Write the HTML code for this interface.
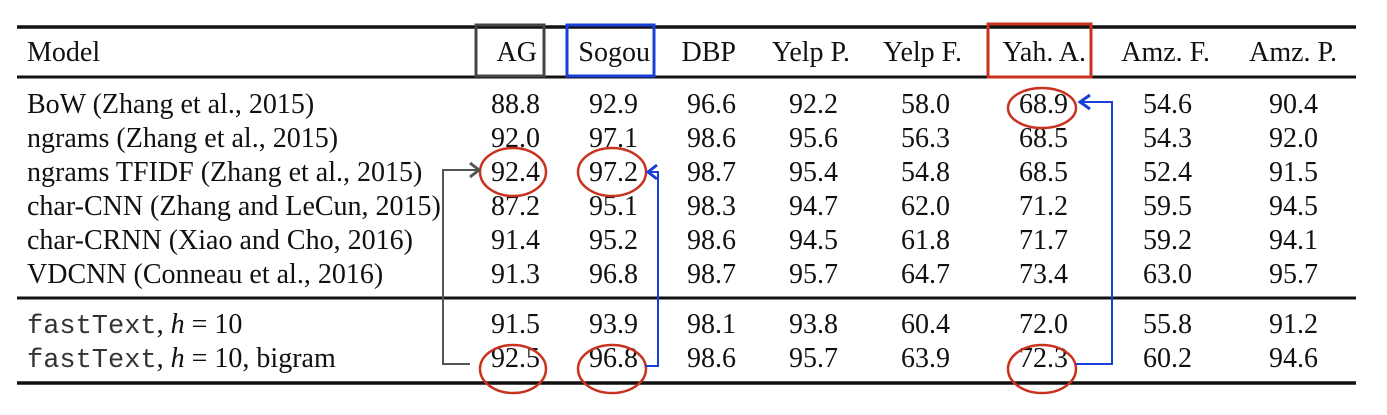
<!DOCTYPE html>
<html><head><meta charset="utf-8"><style>
html,body{margin:0;padding:0;background:#fff;}
svg{display:block;}
text{font-family:"Liberation Serif",serif;font-size:28px;fill:#111;}
.m{font-family:"Liberation Mono",monospace;font-size:27px;fill:#333;}
</style></head><body>
<svg id="tbl" width="1387" height="415">
<rect x="0" y="0" width="1387" height="415" fill="#fff"/>
<line x1="17" y1="27" x2="1356" y2="27" stroke="#111" stroke-width="3.5"/>
<line x1="17" y1="77" x2="1356" y2="77" stroke="#111" stroke-width="3"/>
<line x1="17" y1="298" x2="1356" y2="298" stroke="#111" stroke-width="3"/>
<line x1="17" y1="383" x2="1356" y2="383" stroke="#111" stroke-width="3.5"/>
<text x="27" y="61">Model</text>
<g id="cells"></g>
<rect x="476" y="25" width="68" height="51" fill="none" stroke="#444" stroke-width="3"/>
<rect x="567" y="25" width="87" height="51" fill="none" stroke="#1a3fd8" stroke-width="3"/>
<rect x="988" y="24" width="103" height="53" fill="none" stroke="#c8321e" stroke-width="3"/>
<g fill="none" stroke-width="2.5" stroke="#c8321e">
<ellipse cx="513" cy="172" rx="33" ry="24"/>
<ellipse cx="612" cy="172" rx="34" ry="24"/>
<ellipse cx="1042" cy="108" rx="34" ry="20"/>
<ellipse cx="513" cy="369" rx="33" ry="24"/>
<ellipse cx="612" cy="369" rx="34" ry="24"/>
<ellipse cx="1042" cy="369" rx="34" ry="24"/>
</g>
<g fill="none" stroke-width="2">
<polyline points="470,364 443,364 443,170 478,170" stroke="#555"/>
<polyline points="470,163 479,170 470,177" stroke="#555" stroke-width="3"/>
<polyline points="645,366 658,366 658,172 650,172" stroke="#1a3fd8"/>
<polyline points="657,165 648,172 657,179" stroke="#1a3fd8" stroke-width="3"/>
<polyline points="1076,364 1112,364 1112,102 1080,102" stroke="#1a3fd8"/>
<polyline points="1090,95 1080,102 1090,109" stroke="#1a3fd8" stroke-width="3"/>
</g>
</svg>
<script>
const headers = ["AG","Sogou","DBP","Yelp P.","Yelp F.","Yah. A.","Amz. F.","Amz. P."];
const models = ["BoW (Zhang et al., 2015)","ngrams (Zhang et al., 2015)","ngrams TFIDF (Zhang et al., 2015)","char-CNN (Zhang and LeCun, 2015)","char-CRNN (Xiao and Cho, 2016)","VDCNN (Conneau et al., 2016)"];
const values = [
["88.8","92.9","96.6","92.2","58.0","68.9","54.6","90.4"],
["92.0","97.1","98.6","95.6","56.3","68.5","54.3","92.0"],
["92.4","97.2","98.7","95.4","54.8","68.5","52.4","91.5"],
["87.2","95.1","98.3","94.7","62.0","71.2","59.5","94.5"],
["91.4","95.2","98.6","94.5","61.8","71.7","59.2","94.1"],
["91.3","96.8","98.7","95.7","64.7","73.4","63.0","95.7"],
["91.5","93.9","98.1","93.8","60.4","72.0","55.8","91.2"],
["92.5","96.8","98.6","95.7","63.9","72.3","60.2","94.6"]];
const NS="http://www.w3.org/2000/svg";
const g=document.getElementById('cells');
const hdrRight=[537,650,736,850,962,1086,1210,1337];
const numRight=[540,638,736,838,950,1068,1192,1318];
const rowY=[113,147,181,215,249,283,333,367];
function t(x,y,s,anchor){const e=document.createElementNS(NS,'text');e.setAttribute('x',x);e.setAttribute('y',y);e.setAttribute('text-anchor',anchor);e.textContent=s;g.appendChild(e);return e;}
headers.forEach((h,i)=>{const e=t(hdrRight[i],61,h,'end');

});
models.forEach((m,i)=>{const e=t(27,rowY[i],m,'start');

});
[6,7].forEach((r,k)=>{const e=document.createElementNS(NS,'text');e.setAttribute('x',27);e.setAttribute('y',rowY[r]);
e.innerHTML='<tspan class="m">fastText</tspan><tspan>, </tspan><tspan font-style="italic">h</tspan><tspan> = 10'+(k?', bigram':'')+'</tspan>';


g.appendChild(e);});
values.forEach((row,r)=>row.forEach((v,c)=>{const e=t(numRight[c],rowY[r],v,'end');

}));
</script>
</body></html>
